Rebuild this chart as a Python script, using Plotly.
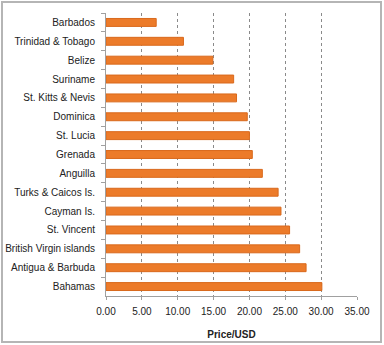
import plotly.graph_objects as go

countries = ["Barbados", "Trinidad & Tobago", "Belize", "Suriname", "St. Kitts & Nevis",
             "Dominica", "St. Lucia", "Grenada", "Anguilla", "Turks & Caicos Is.",
             "Cayman Is.", "St. Vincent", "British Virgin islands", "Antigua & Barbuda", "Bahamas"]
prices = [7.0, 10.8, 14.9, 17.8, 18.2, 19.7, 20.0, 20.4, 21.8, 24.0, 24.4, 25.6, 27.0, 27.9, 30.1]
tick_vals = [0, 5, 10, 15, 20, 25, 30, 35]
tick_text = ["0.00", "5.00", "10.00", "15.00", "20.00", "25.00", "30.00", "35.00"]

W, H = 384, 345
ml, mr, mt, mb = 106, 27, 13, 49
pw, ph = W - ml - mr, H - mt - mb

fig = go.Figure()
fig.add_trace(go.Bar(
    x=prices, y=countries, orientation="h",
    marker=dict(color="#EC7B2A", line=dict(width=1, color="#D9691C")),
    width=0.42,
))

font = "Liberation Sans, Arial, sans-serif"
fig.update_layout(
    width=W, height=H,
    margin=dict(l=ml, r=mr, t=mt, b=mb),
    paper_bgcolor="white", plot_bgcolor="white",
    showlegend=False,
    font=dict(family=font, size=10, color="#222"),
    xaxis=dict(
        range=[0, 35], tickvals=tick_vals, ticktext=tick_text,
        showgrid=True, gridcolor="#8a8a8a", griddash="3px,3px", gridwidth=1,
        zeroline=False, showline=True, linecolor="#a0a0a0", linewidth=1,
        ticks="outside", ticklen=3, tickcolor="#a0a0a0",
        tickfont=dict(size=10, color="#222"),
        ticklabelstandoff=3, automargin=False,
        title=dict(text="<b>Price/USD</b>", font=dict(size=10, color="#222"), standoff=14),
    ),
    yaxis=dict(
        categoryorder="array", categoryarray=countries, autorange="reversed",
        showgrid=False, zeroline=False, showline=True, linecolor="#a0a0a0", linewidth=1,
        ticks="outside", tickson="boundaries", ticklen=4, tickcolor="#a0a0a0",
        tickfont=dict(size=10, color="#222"),
        ticklabelstandoff=8, automargin=False,
    ),
)

def px_to_paper_x(px):
    return (px - ml) / pw

def px_to_paper_y(py):
    return 1 - (py - mt) / ph

fig.add_shape(type="rect", xref="paper", yref="paper",
              x0=px_to_paper_x(2), x1=px_to_paper_x(381),
              y0=px_to_paper_y(342), y1=px_to_paper_y(2),
              line=dict(color="#b5b5b5", width=2), fillcolor="rgba(0,0,0,0)", layer="below")

fig.write_html("out.html")
